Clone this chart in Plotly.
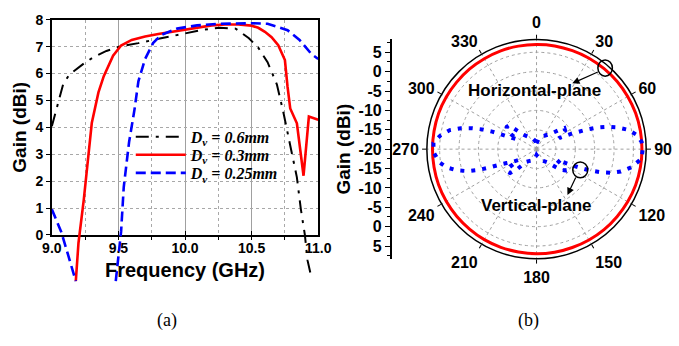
import plotly.graph_objects as go

# ---------------- (a) Gain vs frequency ----------------
freq_06 = [9.0, 9.05, 9.085, 9.13, 9.24, 9.31, 9.41, 9.52, 9.65, 9.82, 9.99, 10.14, 10.26,
           10.38, 10.48, 10.55, 10.62, 10.69, 10.74, 10.79, 10.84, 10.87, 10.90, 10.92, 10.95]
gain_06 = [4.04, 5.0, 5.6, 5.95, 6.37, 6.6, 6.84, 7.02, 7.13, 7.31, 7.49, 7.63, 7.70,
           7.67, 7.31, 6.96, 6.42, 5.59, 4.52, 3.33, 2.14, 0.95, 0.0, -0.95, -1.6]

freq_03 = [9.18, 9.2, 9.24, 9.27, 9.30, 9.35, 9.39, 9.46, 9.52, 9.60, 9.70, 9.80, 9.90, 10.0,
           10.1, 10.2, 10.3, 10.4, 10.5, 10.55, 10.6, 10.65, 10.7, 10.75, 10.77, 10.79,
           10.84, 10.89, 10.93, 11.0]
gain_03 = [-1.72, -0.3, 1.31, 2.73, 4.16, 5.3, 5.9, 6.66, 7.04, 7.25, 7.38, 7.47, 7.55, 7.63,
           7.72, 7.79, 7.82, 7.82, 7.78, 7.7, 7.55, 7.35, 7.05, 6.5, 5.5, 4.7,
           4.15, 2.2, 4.4, 4.28]

freq_025 = [9.0, 9.07, 9.12, 9.18, None, 9.48, 9.52, 9.54, 9.58, 9.62, 9.65, 9.70, 9.76, 9.82,
            9.94, 10.09, 10.26, 10.50, 10.62, 10.77, 10.86, 10.95, 11.0]
gain_025 = [0.95, 0.12, -0.71, -1.72, None, -1.72, 0.12, 1.78, 3.45, 4.64, 5.71, 6.54, 7.13, 7.43,
            7.67, 7.79, 7.85, 7.87, 7.85, 7.61, 7.25, 6.72, 6.54]

x_ticks = [9.0, 9.5, 10.0, 10.5, 11.0]

# ---------------- (b) radiation pattern ----------------
h_theta = [0, 10, 20, 30, 40, 50, 60, 70, 80, 90, 100, 110, 120, 130, 140, 150, 160, 170,
           180, 190, 200, 210, 220, 230, 240, 250, 260, 270, 280, 290, 300, 310, 320, 330,
           340, 350, 360]
h_gain = [7.0, 7.05, 7.05, 7.1, 7.1, 7.15, 7.15, 7.2, 7.2, 7.2, 7.2, 7.2, 7.15, 7.1, 7.1,
          7.05, 7.0, 7.0, 7.0, 6.95, 6.95, 6.95, 6.9, 6.9, 6.9, 6.9, 6.85, 6.85, 6.85, 6.9,
          6.9, 6.9, 6.95, 6.95, 7.0, 7.0, 7.0]

v_theta = [0, 10, 20, 30, 40, 45, 49, 53, 57, 60, 64, 66, 67.5, 68.6, 70.3, 72.5, 75, 78,
           81.7, 86, 90, 95.2, 100.8, 104.8, 107.5, 109.8, 111.7, 113, 114.5, 116.5, 118,
           120, 123, 127, 131, 135, 140, 150, 160, 170, 180, 190, 199, 210, 219, 224, 228,
           232, 236, 239, 242, 245, 247.3, 248.8, 250.3, 252.2, 255, 258.3, 262.1, 268.3,
           273.5, 278.1, 282.4, 285.5, 287.9, 289.9, 291.6, 292.8, 294.5, 297, 300, 303,
           307, 311, 314, 318, 325, 332, 340, 350, 360]
v_gain = [-18.5, -17.5, -16.5, -16.0, -15.0, -14.0, -12.6, -11.0, -11.2, -12.5, -13.5, -10.5,
          -8.5, -6.3, -3.45, -0.9, 1.67, 4.1, 6.0, 7.17, 7.4, 7.2, 4.9, 2.5, 0.2, -2.5, -5.15,
          -7.5, -10.0, -13.0, -14.0, -13.2, -11.5, -10.9, -12.0, -14.0, -15.5, -16.5, -17.0,
          -18.0, -18.5, -17.5, -17.0, -16.5, -15.8, -13.0, -10.8, -10.5, -11.0, -14.5, -13.0,
          -11.5, -9.6, -6.9, -4.1, -1.45, 1.16, 3.5, 5.2, 6.6, 6.65, 5.05, 2.9, 0.27, -2.4,
          -5.0, -7.7, -10.5, -13.0, -14.5, -12.5, -10.8, -10.4, -10.6, -13.2, -15.0, -16.0,
          -16.5, -17.0, -17.8, -18.5]

r_min, r_max = -20, 8.3
radial_labels = [5, 0, -5, -10, -15, -20]
angle_ticks = list(range(0, 360, 30))

W, H = 679, 346
def px(x):
    return x / W
def py(y):
    return (H - y) / H

BOLD = dict(family="Liberation Sans", color="black", weight="bold")

fig = go.Figure()

# data subplot for (a) (extends below the frame like the original)
series = [
    (freq_06, gain_06, "<b><i>D<sub>v</sub> = 0.6mm</i></b>", "black", "13px,7px,3px,7px", 2, "legend", 135),
    (freq_03, gain_03, "<b><i>D<sub>v</sub> = 0.3mm</i></b>", "#ff0000", "solid", 2.6, "legend2", 154),
    (freq_025, gain_025, "<b><i>D<sub>v</sub> = 0.25mm</i></b>", "#0000ff", "10px,5px", 2.6, "legend3", 173),
]
for fx, gy, name, col, dash, w, lg, _ in series:
    fig.add_trace(go.Scatter(x=fx, y=gy, mode="lines", name=name, connectgaps=False,
                             line=dict(color=col, dash=dash, width=w), legend=lg,
                             xaxis="x3", yaxis="y3", hoverinfo="skip"))

# dummy traces so the frame axes and the radial scale axis are drawn
fig.add_trace(go.Scatter(x=[None], y=[None], xaxis="x", yaxis="y", showlegend=False,
                         hoverinfo="skip"))
fig.add_trace(go.Scatter(x=[None], y=[None], xaxis="x2", yaxis="y2", showlegend=False,
                         hoverinfo="skip"))

fig.add_trace(go.Scatterpolar(theta=h_theta, r=h_gain, mode="lines", showlegend=False,
                              line=dict(color="#ff0000", width=3, shape="spline"),
                              hoverinfo="skip"))
fig.add_trace(go.Scatterpolar(theta=v_theta, r=v_gain, mode="lines", showlegend=False,
                              line=dict(color="#0000ff", width=4, dash="4px,7px"),
                              hoverinfo="skip"))

x_dom = [px(43.3), px(319)]
y0_px = 237.9
unit = 28.2
y_dom = [py(y0_px), py(y0_px - 8 * unit)]
y3_low = -1.75
y3_dom = [py(y0_px - y3_low * unit), y_dom[1]]

pol_c = (545, 148)
pol_R = 115
pol_x = [px(pol_c[0] - pol_R), px(pol_c[0] + pol_R)]
pol_y = [py(pol_c[1] + pol_R), py(pol_c[1] - pol_R)]
span = r_max - r_min

rad_text = [str(lab) for lab in radial_labels] + [str(lab) for lab in radial_labels[::-1][1:]]
rad_vals = [(lab - r_min) for lab in radial_labels] + [-(lab - r_min) for lab in radial_labels[::-1][1:]]

legend_common = dict(xanchor="left", yanchor="middle", bgcolor="rgba(0,0,0,0)",
                     borderwidth=0, itemwidth=50,
                     font=dict(family="Liberation Serif", size=16, color="black"))

fig.update_layout(
    width=W, height=H, margin=dict(l=0, r=0, t=0, b=0),
    paper_bgcolor="white", plot_bgcolor="rgba(0,0,0,0)",
    xaxis=dict(domain=x_dom, range=[9, 11], tickvals=x_ticks,
               ticktext=[f"{v:.1f}" for v in x_ticks],
               showgrid=True, gridcolor="#a0a0a0", gridwidth=1,
               showline=True, linecolor="black", linewidth=1.5, mirror=True,
               ticks="inside", ticklen=4, tickcolor="black",
               tickfont=dict(size=14, **BOLD),
               minor=dict(dtick=0.25, tick0=9.0, showgrid=True, gridcolor="#a8a8a8",
                          griddash="dot", ticks="outside", ticklen=3, tickcolor="black"),
               title=dict(text="Frequency (GHz)", font=dict(size=20, **BOLD), standoff=8),
               zeroline=False, anchor="y"),
    yaxis=dict(domain=y_dom, range=[0, 8], dtick=1,
               showgrid=True, gridcolor="#a8a8a8", griddash="dot",
               showline=True, linecolor="black", linewidth=1.5, mirror=True,
               ticks="outside", ticklen=4, tickcolor="black",
               tickfont=dict(size=14, **BOLD),
               title=dict(text="Gain (dBi)", font=dict(size=19, **BOLD), standoff=4),
               zeroline=False, anchor="x"),
    xaxis3=dict(domain=x_dom, range=[9, 11], visible=False, anchor="y3"),
    yaxis3=dict(domain=y3_dom, range=[y3_low, 8], visible=False, anchor="x3"),
    xaxis2=dict(domain=[px(394), px(395)], visible=False, anchor="y2"),
    yaxis2=dict(domain=pol_y, range=[-span, span], anchor="free", position=px(394),
                tickvals=rad_vals, ticktext=rad_text, showgrid=False, zeroline=False,
                showline=True, linecolor="black", linewidth=1.5,
                ticks="outside", ticklen=5, tickcolor="black",
                minor=dict(dtick=2.5, tick0=0, ticks="outside", ticklen=3, tickcolor="black"),
                tickfont=dict(size=16, **BOLD),
                title=dict(text="Gain (dBi)", font=dict(size=19, **BOLD), standoff=2)),
    polar=dict(
        domain=dict(x=pol_x, y=pol_y),
        bgcolor="white",
        angularaxis=dict(rotation=90, direction="clockwise", tickvals=angle_ticks,
                         ticktext=[str(a) for a in angle_ticks],
                         showline=True, linecolor="black", linewidth=1.5,
                         ticks="outside", ticklen=4, tickcolor="black",
                         showgrid=True, gridcolor="#a0a0a0", griddash="dot",
                         tickfont=dict(size=16, **BOLD)),
        radialaxis=dict(range=[r_min, r_max], tickvals=[-15, -10, -5, 0, 5],
                        showticklabels=False, ticks="", showline=False,
                        showgrid=True, gridcolor="#a0a0a0", griddash="dot"),
    ),
    legend=dict(x=px(125), y=py(series[0][7]), **legend_common),
    legend2=dict(x=px(125), y=py(series[1][7]), **legend_common),
    legend3=dict(x=px(125), y=py(series[2][7]), **legend_common),
    showlegend=True,
)

fig.add_annotation(x=px(543), y=py(87), xref="paper", yref="paper", showarrow=False,
                   xanchor="center", yanchor="middle",
                   text="Horizontal-plane", font=dict(size=17, **BOLD))
fig.add_annotation(x=px(545), y=py(207), xref="paper", yref="paper", showarrow=False,
                   xanchor="center", yanchor="middle",
                   text="Vertical-plane", font=dict(size=17, **BOLD))
fig.add_annotation(x=px(582), y=py(79), xref="paper", yref="paper", text="",
                   showarrow=True, ax=27, ay=-12, arrowhead=2, arrowsize=1.2,
                   arrowwidth=1.2, arrowcolor="black")
fig.add_annotation(x=px(577), y=py(196), xref="paper", yref="paper", text="",
                   showarrow=True, ax=9, ay=-19, arrowhead=2, arrowsize=1.2,
                   arrowwidth=1.2, arrowcolor="black")
fig.add_shape(type="circle", xref="paper", yref="paper", x0=px(608.5), x1=px(623.5),
              y0=py(71.5), y1=py(54.5), line=dict(color="black", width=1.5))
fig.add_shape(type="circle", xref="paper", yref="paper", x0=px(582.5), x1=px(598),
              y0=py(178), y1=py(161.5), line=dict(color="black", width=1.5))

fig.add_annotation(x=px(162), y=py(328), xref="paper", yref="paper", showarrow=False,
                   xanchor="center", yanchor="middle",
                   text="(a)", font=dict(family="Liberation Serif", size=18, color="black"))
fig.add_annotation(x=px(537), y=py(328), xref="paper", yref="paper", showarrow=False,
                   xanchor="center", yanchor="middle",
                   text="(b)", font=dict(family="Liberation Serif", size=18, color="black"))

fig.write_html("out.html")
